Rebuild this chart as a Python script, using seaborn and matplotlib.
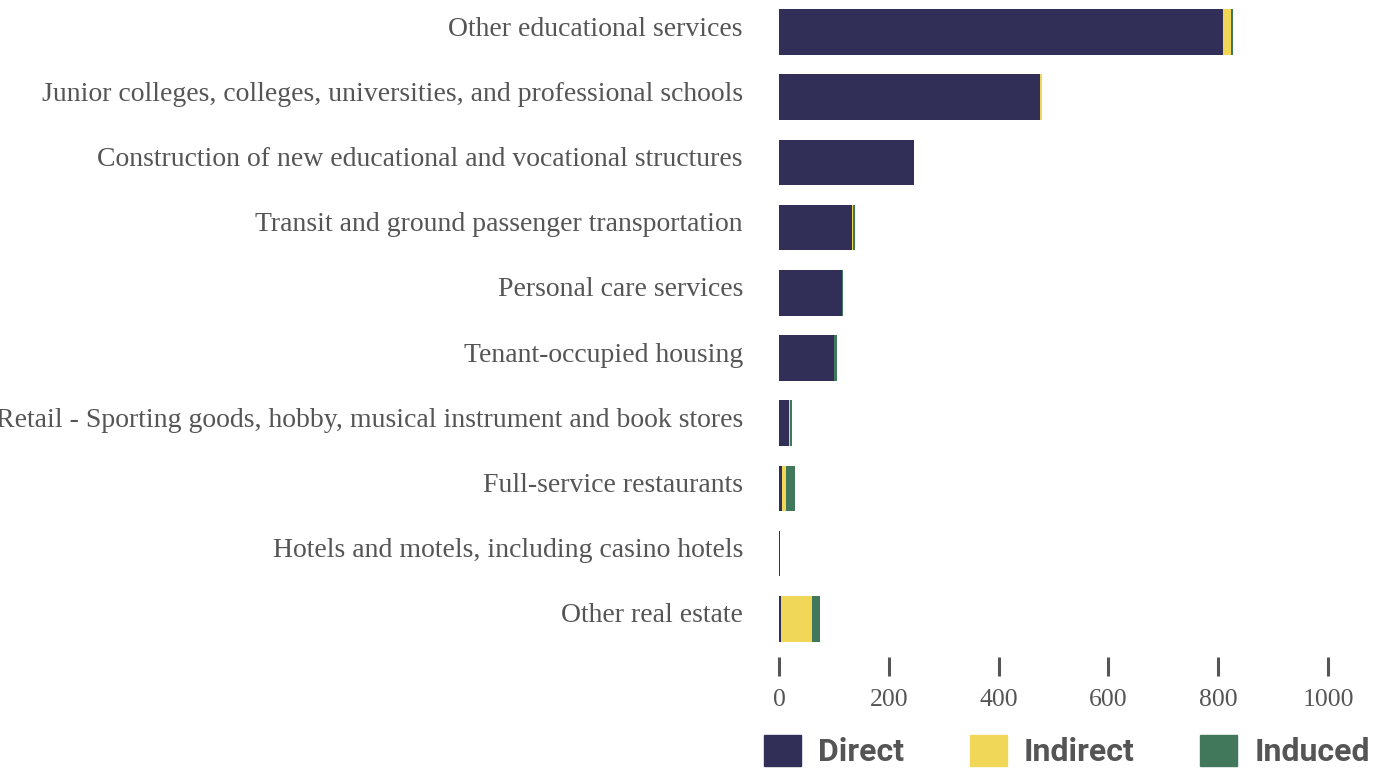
import seaborn as sns
import matplotlib.pyplot as plt
import matplotlib.patches as mpatches
from matplotlib.transforms import ScaledTranslation
import pandas as pd

# Data
industries = [
    'Other educational services',
    'Junior colleges, colleges, universities, and professional schools',
    'Construction of new educational and vocational structures',
    'Transit and ground passenger transportation',
    'Personal care services',
    'Tenant-occupied housing',
    'Retail - Sporting goods, hobby, musical instrument and book stores',
    'Full-service restaurants',
    'Hotels and motels, including casino hotels',
    'Other real estate',
]
direct = [809, 476, 246, 133, 114, 100, 19, 5, 2, 3]
indirect = [14, 3, 0, 2, 0.5, 0, 0.5, 7, 0, 58]
induced = [4, 0, 0, 4, 2, 5, 5, 17, 0, 13]

series = ['Direct', 'Indirect', 'Induced']
colors = ['#312f58', '#f0d757', '#41785b']
text_color = '#555555'

df = pd.DataFrame({'industry': industries, 'Direct': direct,
                   'Indirect': indirect, 'Induced': induced})
# cumulative ends so the bars can be stacked by overlapping
df['end_direct'] = df['Direct']
df['end_indirect'] = df['Direct'] + df['Indirect']
df['end_induced'] = df['end_indirect'] + df['Induced']

sns.set_style('white')
fig = plt.figure(figsize=(13.73, 7.70), dpi=100)
ax = fig.add_axes([779 / 1373, 1 - 657 / 770, 594 / 1373, 657 / 770])

for col, color in zip(['end_induced', 'end_indirect', 'end_direct'], colors[::-1]):
    sns.barplot(data=df, y='industry', x=col, order=industries, color=color,
                width=0.7, linewidth=0, saturation=1, ax=ax)

ax.set_xlim(0, 1082)
ax.set_ylim(9.586, -0.491)
ax.set_xticks([0, 200, 400, 600, 800, 1000])
ax.set_xlabel('')
ax.set_ylabel('')
sns.despine(ax=ax, left=True, bottom=True, top=True, right=True)

ax.tick_params(axis='x', bottom=True, direction='out', length=13.7, width=2.2,
               color='#555555', pad=9.5, labelsize=18.5, labelcolor=text_color)
ax.tick_params(axis='y', left=False, length=0, pad=26, labelsize=20, labelcolor=text_color)
for lab in ax.get_xticklabels() + ax.get_yticklabels():
    lab.set_family(['Liberation Serif', 'DejaVu Serif'])
# category labels sit a little above the bar centres
for lab in ax.get_yticklabels():
    lab.set_transform(lab.get_transform() + ScaledTranslation(0, 6 / 100, fig.dpi_scale_trans))

handles = [mpatches.Patch(color=c, label=s) for c, s in zip(colors, series)]
fig.legend(handles=handles, loc='upper left', bbox_to_anchor=(764 / 1373, 1 - 735 / 770),
           ncol=3, frameon=False, borderpad=0, borderaxespad=0,
           handlelength=1.16, handleheight=1.1, handletextpad=0.53, columnspacing=2.06,
           labelcolor=text_color,
           prop={'family': 'Roboto', 'weight': 'bold', 'size': 23})

fig.savefig('out.png', dpi=100)
